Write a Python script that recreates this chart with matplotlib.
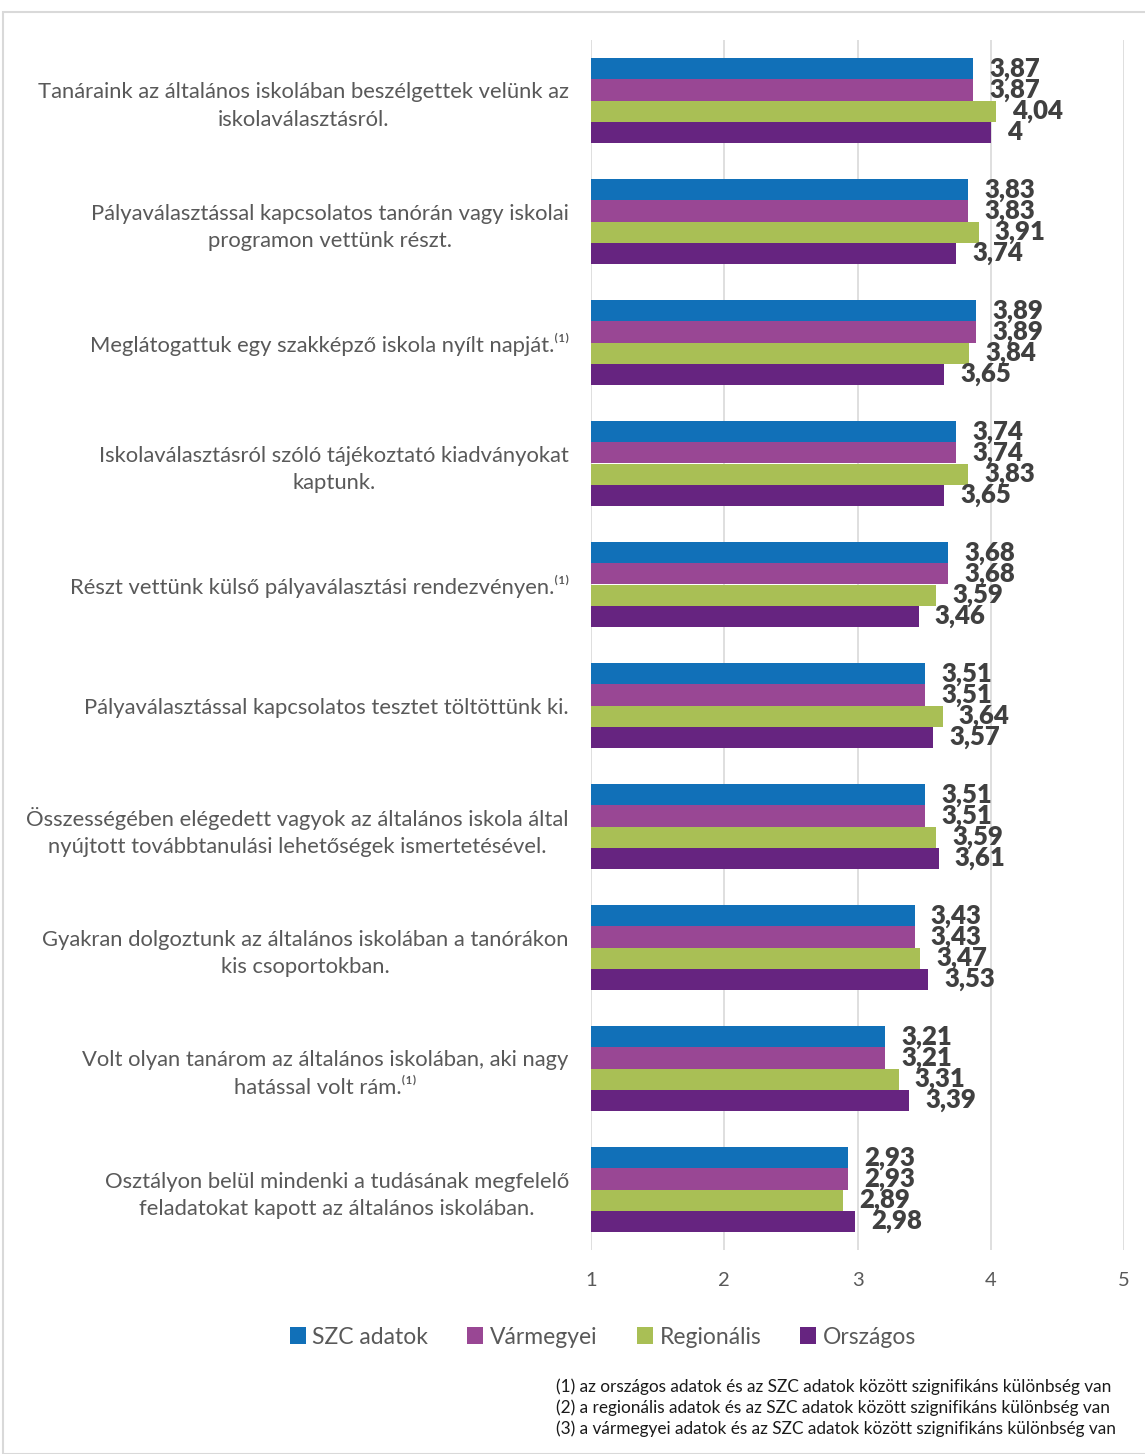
import matplotlib
matplotlib.use("Agg")
import matplotlib.pyplot as plt
from matplotlib.patches import Rectangle
import numpy as np

plt.rcParams['font.family'] = ['Lato', 'DejaVu Sans']

categories = [
    "Tanáraink az általános iskolában beszélgettek velünk az\niskolaválasztásról.",
    "Pályaválasztással kapcsolatos tanórán vagy iskolai\nprogramon vettünk részt.",
    "Meglátogattuk egy szakképző iskola nyílt napját.⁽¹⁾",
    "Iskolaválasztásról szóló tájékoztató kiadványokat\nkaptunk.",
    "Részt vettünk külső pályaválasztási rendezvényen.⁽¹⁾",
    "Pályaválasztással kapcsolatos tesztet töltöttünk ki.",
    "Összességében elégedett vagyok az általános iskola által\nnyújtott továbbtanulási lehetőségek ismertetésével.",
    "Gyakran dolgoztunk az általános iskolában a tanórákon\nkis csoportokban.",
    "Volt olyan tanárom az általános iskolában, aki nagy\nhatással volt rám.⁽¹⁾",
    "Osztályon belül mindenki a tudásának megfelelő\nfeladatokat kapott az általános iskolában.",
]
series_names = ["SZC adatok", "Vármegyei", "Regionális", "Országos"]
szc = [3.87, 3.83, 3.89, 3.74, 3.68, 3.51, 3.51, 3.43, 3.21, 2.93]
varmegyei = [3.87, 3.83, 3.89, 3.74, 3.68, 3.51, 3.51, 3.43, 3.21, 2.93]
regionalis = [4.04, 3.91, 3.84, 3.83, 3.59, 3.64, 3.59, 3.47, 3.31, 2.89]
orszagos = [4.00, 3.74, 3.65, 3.65, 3.46, 3.57, 3.61, 3.53, 3.39, 2.98]
xticks = [1, 2, 3, 4, 5]
footnotes = [
    "(1) az országos adatok és az SZC adatok között szignifikáns különbség van",
    "(2) a regionális adatok és az SZC adatok között szignifikáns különbség van",
    "(3) a vármegyei adatok és az SZC adatok között szignifikáns különbség van",
]
colors = ["#1170B8", "#994794", "#A9BF55", "#662480"]

W, H = 1145, 1454
fig = plt.figure(figsize=(W / 100, H / 100), dpi=100)
fig.patches.append(Rectangle((3 / W, 0), 1.2, 1 - 12 / H, transform=fig.transFigure,
                             fill=False, edgecolor="#d9d9d9", linewidth=1.5))
ax = fig.add_axes([591 / W, 1 - 1250 / H, (1124 - 591) / W, 1210 / H])

n = len(categories)
ycent = np.arange(n)
bh = 0.1736
data = [szc, varmegyei, regionalis, orszagos]
for i, (vals, c, name) in enumerate(zip(data, colors, series_names)):
    ypos = ycent - 1.5 * bh + i * bh
    ax.barh(ypos, vals, height=bh, color=c, label=name, zorder=2)
    for y, v in zip(ypos, vals):
        ax.text(v + 0.12, y, f"{v:g}".replace(".", ","), ha="left", va="center",
                fontsize=18.5, fontweight="heavy", color="#404040", zorder=3)

ax.set_xlim(1, 5)
ax.set_ylim(n - 0.5, -0.5)
ax.set_xticks(xticks)
ax.set_xticklabels([str(t) for t in xticks], fontsize=14.5, color="#595959")
ax.set_yticks(ycent)
ax.set_yticklabels(categories, fontsize=15.8, color="#595959",
                   multialignment="center", linespacing=1.45)
ax.tick_params(axis="y", length=0, pad=16)
ax.tick_params(axis="x", length=0, pad=16)
ax.grid(axis="x", color="#d9d9d9", linewidth=1.2, zorder=0)
for s in ax.spines.values():
    s.set_visible(False)

leg = fig.legend(loc="center", bbox_to_anchor=(603 / W, 1 - 1337 / H), ncol=4,
                 frameon=False, fontsize=16.5, handlelength=0.7, handleheight=0.7,
                 handletextpad=0.3, columnspacing=1.7)
for t in leg.get_texts():
    t.set_color("#595959")

for k, line in enumerate(footnotes):
    fig.text(556 / W, 1 - (1387 + k * 21) / H, line, ha="left", va="center",
             fontsize=12.4, color="#1a1a1a")

fig.savefig("out.png", dpi=100)
